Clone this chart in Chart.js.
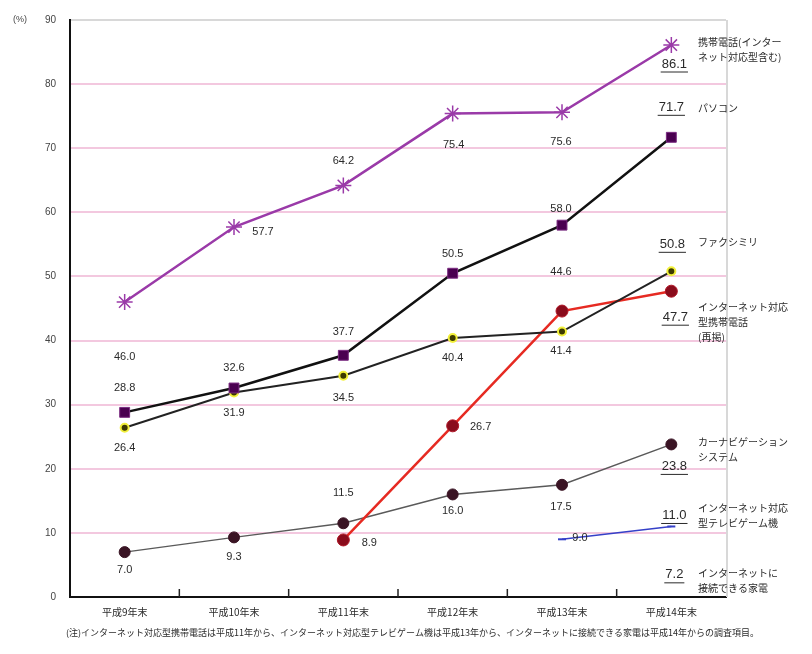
<!DOCTYPE html>
<html lang="ja">
<head>
<meta charset="utf-8">
<title>情報通信機器の世帯保有率の推移</title>
<script src="https://cdn.jsdelivr.net/npm/chart.js@4"></script>
<style>
  body { margin: 0; background: #fff; }
  #wrap { position: relative; width: 812px; height: 654px; }
</style>
</head>
<body>
<div id="wrap"><canvas id="myChart"></canvas></div>
<script>
// 年次(カテゴリ)
const years = ["平成9年末", "平成10年末", "平成11年末", "平成12年末", "平成13年末", "平成14年末"];

// 各機器の世帯保有率(%)
const mobilePhone = [46.0, 57.7, 64.2, 75.4, 75.6, 86.1];
const personalComputer = [28.8, 32.6, 37.7, 50.5, 58.0, 71.7];
const facsimile = [26.4, 31.9, 34.5, 40.4, 41.4, 50.8];
const netMobilePhone = [null, null, 8.9, 26.7, 44.6, 47.7];
const carNavigation = [7.0, 9.3, 11.5, 16.0, 17.5, 23.8];
const netGameConsole = [null, null, null, null, 9.0, 11.0];
const netAppliance = [null, null, null, null, null, 7.2];

// 右側の凡例テキスト
const mobilePhoneName = ["携帯電話(インター", "ネット対応型含む)"];
const personalComputerName = ["パソコン"];
const facsimileName = ["ファクシミリ"];
const netMobilePhoneName = ["インターネット対応", "型携帯電話", "(再掲)"];
const carNavigationName = ["カーナビゲーション", "システム"];
const netGameConsoleName = ["インターネット対応", "型テレビゲーム機"];
const netApplianceName = ["インターネットに", "接続できる家電"];

const footNote = "(注)インターネット対応型携帯電話は平成11年から、インターネット対応型テレビゲーム機は平成13年から、インターネットに接続できる家電は平成14年からの調査項目。";

const NUM_FONT = '"Liberation Sans", "Noto Sans CJK JP", sans-serif';
const JP_FONT = '"Noto Sans CJK JP", sans-serif';

// 数値ラベルの位置(点からのずれ)と右側の名前の位置
const series = [
  { name: mobilePhoneName, nameY: 42,
    offsets: [[0, 55], [29, 5], [0, -24], [1, 31], [-1, 30], [3, 19]] },
  { name: personalComputerName, nameY: 108,
    offsets: [[0, -24], [0, -20], [0, -23], [0, -19], [-1, -16], [0, -30]] },
  { name: facsimileName, nameY: 242,
    offsets: [[0, 20], [0, 20], [0, 22], [0, 20], [-1, 19], [1, -27]] },
  { name: netMobilePhoneName, nameY: 307,
    offsets: [null, null, [26, 3], [28, 1], [-1, -39], [4, 26]] },
  { name: carNavigationName, nameY: 442,
    offsets: [[0, 18], [0, 20], [0, -30], [0, 17], [-1, 22], [3, 22]] },
  { name: netGameConsoleName, nameY: 508,
    offsets: [null, null, null, null, [18, -1], [3, -11]] },
  { name: netApplianceName, nameY: 573,
    offsets: [null, null, null, null, null, [3, 24]] }
];

const labelPlugin = {
  id: "labelPlugin",
  beforeDraw(chart) {
    const ctx = chart.ctx;
    ctx.save();
    ctx.fillStyle = "#fff";
    ctx.fillRect(0, 0, chart.width, chart.height);
    ctx.restore();
  },
  afterDatasetsDraw(chart) {
    const ctx = chart.ctx;
    const area = chart.chartArea;
    const x = chart.scales.x;
    ctx.save();

    // 右端の縦線
    ctx.strokeStyle = "#d8d8d8";
    ctx.lineWidth = 2;
    ctx.beginPath();
    ctx.moveTo(area.right + 1, area.top);
    ctx.lineTo(area.right + 1, area.bottom);
    ctx.stroke();

    // x軸の区切り目盛
    ctx.strokeStyle = "#222";
    ctx.lineWidth = 1.5;
    for (let i = 1; i < years.length; i++) {
      const px = (x.getPixelForValue(i - 1) + x.getPixelForValue(i)) / 2;
      ctx.beginPath();
      ctx.moveTo(px, area.bottom);
      ctx.lineTo(px, area.bottom - 8);
      ctx.stroke();
    }

    ctx.textAlign = "center";
    ctx.textBaseline = "middle";
    chart.data.datasets.forEach((ds, di) => {
      const meta = chart.getDatasetMeta(di);
      const s = series[di];
      ds.data.forEach((v, i) => {
        if (v === null || !s.offsets[i]) return;
        const pt = meta.data[i];
        const tx = pt.x + s.offsets[i][0];
        const ty = pt.y + s.offsets[i][1];
        const text = v.toFixed(1);
        const last = i === ds.data.length - 1;
        ctx.fillStyle = "#2a2a2a";
        ctx.font = last ? "13px " + NUM_FONT : "11px " + NUM_FONT;
        ctx.fillText(text, tx, ty);
        if (last) {
          const w = ctx.measureText(text).width;
          ctx.strokeStyle = "#2a2a2a";
          ctx.lineWidth = 1;
          ctx.beginPath();
          ctx.moveTo(tx - w / 2 - 1, ty + 8);
          ctx.lineTo(tx + w / 2 + 1, ty + 8);
          ctx.stroke();
        }
      });

      // 機器名
      ctx.textAlign = "left";
      ctx.font = "10px " + JP_FONT;
      ctx.fillStyle = "#2a2a2a";
      s.name.forEach((line, li) => ctx.fillText(line, 698, s.nameY + li * 15));
      ctx.textAlign = "center";
    });

    ctx.font = "9px " + NUM_FONT;
    ctx.fillStyle = "#444";
    ctx.fillText("(%)", 20, 20);

    ctx.textAlign = "left";
    ctx.font = "9px " + JP_FONT;
    ctx.fillStyle = "#2a2a2a";
    ctx.fillText(footNote, 66, 633, 716);
    ctx.restore();
  }
};

new Chart("myChart", {
  type: "line",
  data: {
    labels: years,
    datasets: [
      { label: "携帯電話", data: mobilePhone, borderColor: "#9a3aa8", borderWidth: 2.5,
        pointStyle: "star", pointRadius: 8, pointBorderColor: "#9a3aa8", pointBorderWidth: 1.5,
        pointBackgroundColor: "#9a3aa8" },
      { label: "パソコン", data: personalComputer, borderColor: "#111", borderWidth: 2.5,
        pointStyle: "rect", pointRadius: 7, pointBackgroundColor: "#4a0050",
        pointBorderColor: "#7a2a80", pointBorderWidth: 1 },
      { label: "ファクシミリ", data: facsimile, borderColor: "#222", borderWidth: 2,
        pointStyle: "circle", pointRadius: 4, pointBackgroundColor: "#3d3a00",
        pointBorderColor: "#f2f03a", pointBorderWidth: 2 },
      { label: "インターネット対応型携帯電話", data: netMobilePhone, borderColor: "#e62a22", borderWidth: 2.5,
        pointStyle: "circle", pointRadius: 6, pointBackgroundColor: "#8a0c1c",
        pointBorderColor: "#b01828", pointBorderWidth: 1 },
      { label: "カーナビゲーションシステム", data: carNavigation, borderColor: "#5a5a5a", borderWidth: 1.5,
        pointStyle: "circle", pointRadius: 5.5, pointBackgroundColor: "#3a1424",
        pointBorderColor: "#3a1424", pointBorderWidth: 1 },
      { label: "インターネット対応型テレビゲーム機", data: netGameConsole, borderColor: "#3540c8", borderWidth: 1.5,
        pointStyle: "line", pointRadius: 4, pointBorderColor: "#3540c8", pointBorderWidth: 2 },
      { label: "インターネットに接続できる家電", data: netAppliance, borderColor: "#3540c8", borderWidth: 1.5,
        pointRadius: 0 }
    ]
  },
  options: {
    responsive: true,
    maintainAspectRatio: false,
    animation: false,
    spanGaps: false,
    layout: { padding: { top: 20, right: 86, bottom: 0, left: 0 } },
    plugins: { legend: { display: false }, tooltip: { enabled: false } },
    scales: {
      x: {
        offset: true,
        afterFit: s => { s.height = 57; },
        grid: { display: false, drawTicks: false },
        border: { color: "#111", width: 2 },
        ticks: { color: "#2a2a2a", padding: 9, font: { size: 10, family: JP_FONT } }
      },
      y: {
        min: 0,
        max: 90,
        afterFit: s => { s.width = 70; },
        grid: {
          drawTicks: false,
          lineWidth: 2,
          color: c => c.tick.value === 0 ? "rgba(0,0,0,0)" : (c.tick.value === 90 ? "#d8d8d8" : "#f3c8df")
        },
        border: { color: "#111", width: 2 },
        ticks: { stepSize: 10, color: "#444", padding: 14, font: { size: 10, family: NUM_FONT } }
      }
    }
  },
  plugins: [labelPlugin]
});
</script>
</body>
</html>
